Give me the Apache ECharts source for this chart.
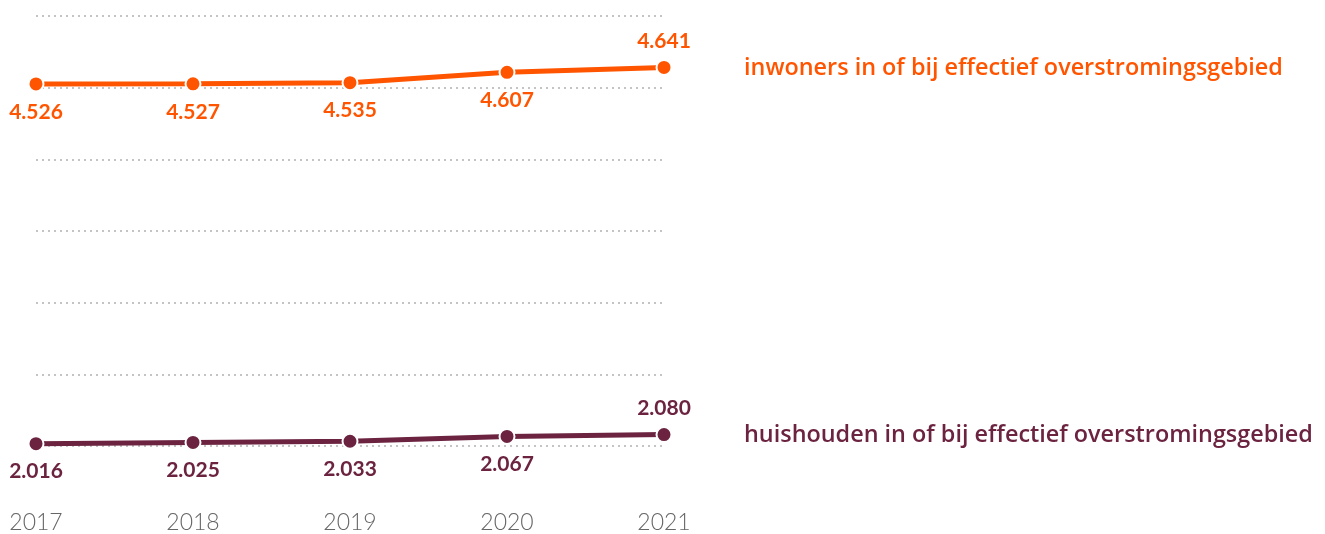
<!DOCTYPE html>
<html>
<head>
<meta charset="utf-8">
<script src="https://cdn.jsdelivr.net/npm/echarts@6/dist/echarts.min.js"></script>
<style>
  html, body { margin: 0; padding: 0; background: #fff; }
  #chart { width: 1325px; height: 534px; }
</style>
</head>
<body>
<div id="chart"></div>
<script>
// Years on the x axis
const years = ['2017', '2018', '2019', '2020', '2021'];

// Residents in or near effective flood area (thousands)
const inwoners = [4526, 4527, 4535, 4607, 4641];
// Households in or near effective flood area (thousands)
const huishouden = [2016, 2025, 2033, 2067, 2080];

const inwonersName = 'inwoners in of bij effectief overstromingsgebied';
const huishoudenName = 'huishouden in of bij effectief overstromingsgebied';

const ORANGE = '#FF5500';
const MAROON = '#6B2340';
const FONT = 'Lato, "Open Sans", sans-serif';
const NAME_FONT = '"Open Sans", Lato, sans-serif';

// Dutch thousands separator
function fmt(v) {
  return String(v).replace(/\B(?=(\d{3})+(?!\d))/g, '.');
}

function makeSeries(name, values, color) {
  const last = values.length - 1;
  return {
    name: name,
    type: 'line',
    data: values.map((v, i) => ({
      value: v,
      label: i === last
        ? { position: 'top', distance: 7 }
        : { position: 'bottom', distance: 9 }
    })),
    symbol: 'circle',
    symbolSize: 15,
    lineStyle: { color: color, width: 5 },
    itemStyle: { color: color, borderColor: '#fff', borderWidth: 2 },
    label: {
      show: true,
      color: color,
      fontFamily: FONT,
      fontWeight: 'bold',
      fontSize: 21,
      formatter: p => fmt(p.value)
    },
    endLabel: {
      show: true,
      formatter: name,
      color: color,
      fontFamily: NAME_FONT,
      fontWeight: 600,
      fontSize: 23.4,
      distance: 80,
      offset: [0, 1]
    },
    emphasis: { disabled: true },
    animation: false
  };
}

const chart = echarts.init(document.getElementById('chart'), null, { renderer: 'canvas' });
chart.setOption({
  animation: false,
  grid: { left: 36, right: 661, top: 16, bottom: 88, containLabel: false },
  xAxis: {
    type: 'category',
    data: years,
    boundaryGap: false,
    axisLine: { show: false },
    axisTick: { show: false },
    axisLabel: {
      margin: 65,
      color: '#666666',
      fontFamily: FONT,
      fontWeight: 300,
      fontSize: 23
    }
  },
  yAxis: {
    type: 'value',
    min: 2000,
    max: 5000,
    interval: 500,
    axisLabel: { show: false },
    axisLine: { show: false },
    axisTick: { show: false },
    splitLine: {
      show: true,
      lineStyle: { color: '#c4c4c4', width: 2, type: [2, 4] }
    }
  },
  series: [
    makeSeries(inwonersName, inwoners, ORANGE),
    makeSeries(huishoudenName, huishouden, MAROON)
  ]
});
</script>
</body>
</html>
